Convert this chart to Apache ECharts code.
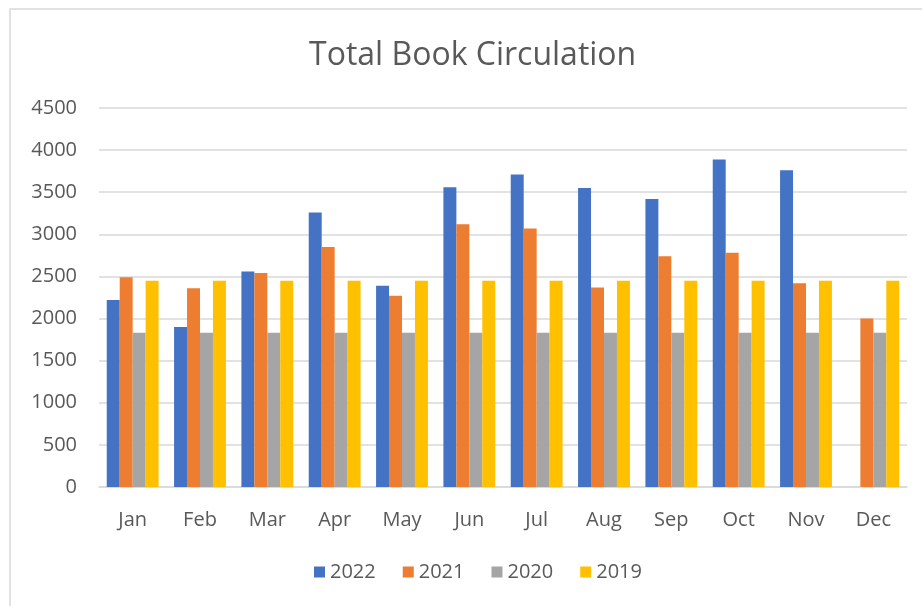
<!DOCTYPE html>
<html>
<head>
<meta charset="utf-8">
<script src="https://cdn.jsdelivr.net/npm/echarts@6/dist/echarts.min.js"></script>
<style>
  html, body { margin: 0; padding: 0; background: #fff; }
  #chart { width: 922px; height: 606px; }
</style>
</head>
<body>
<div id="chart"></div>
<script>
const months = ['Jan', 'Feb', 'Mar', 'Apr', 'May', 'Jun', 'Jul', 'Aug', 'Sep', 'Oct', 'Nov', 'Dec']
const y2022 = [2220, 1900, 2560, 3260, 2390, 3560, 3710, 3550, 3420, 3890, 3760, null]
const y2021 = [2490, 2360, 2540, 2850, 2270, 3120, 3070, 2370, 2740, 2780, 2420, 2000]
const y2020 = [1830, 1830, 1830, 1830, 1830, 1830, 1830, 1830, 1830, 1830, 1830, 1830]
const y2019 = [2450, 2450, 2450, 2450, 2450, 2450, 2450, 2450, 2450, 2450, 2450, 2450]

const font = 'Open Sans'
const textColor = '#595959'

const chart = echarts.init(document.getElementById('chart'))

function bar(name, color, data) {
  return {
    name: name,
    type: 'bar',
    data: data,
    barGap: '0%',
    barCategoryGap: '23%',
    itemStyle: { color: color },
    emphasis: { disabled: true }
  }
}

chart.setOption({
  animation: false,
  graphic: [{
    type: 'rect',
    shape: { x: 10, y: 9, width: 960, height: 640 },
    style: { fill: 'none', stroke: '#d9d9d9', lineWidth: 1.5 },
    silent: true
  }],
  title: {
    text: 'Total Book Circulation',
    left: 304,
    top: 35,
    textStyle: { fontFamily: font, fontSize: 32, fontWeight: 'normal', color: textColor }
  },
  legend: {
    bottom: 19,
    left: 309,
    itemWidth: 11,
    itemHeight: 11,
    itemGap: 27,
    icon: 'rect',
    textStyle: { fontFamily: font, fontSize: 20, color: textColor },
    data: ['2022', '2021', '2020', '2019']
  },
  grid: { left: 99, right: 15, top: 108, bottom: 119 },
  xAxis: {
    type: 'category',
    data: months,
    axisLine: { lineStyle: { color: '#d9d9d9', width: 1.5 } },
    axisTick: { show: false },
    axisLabel: { fontFamily: font, fontSize: 20, color: textColor, margin: 23 }
  },
  yAxis: {
    type: 'value',
    min: 0,
    max: 4500,
    interval: 500,
    axisLine: { show: false },
    axisTick: { show: false },
    axisLabel: { fontFamily: font, fontSize: 20, color: textColor, margin: 22, formatter: v => String(v) },
    splitLine: { lineStyle: { color: '#d9d9d9', width: 1.5 } }
  },
  series: [
    bar('2022', '#4472c4', y2022),
    bar('2021', '#ed7d31', y2021),
    bar('2020', '#a5a5a5', y2020),
    bar('2019', '#ffc000', y2019)
  ]
})
</script>
</body>
</html>
